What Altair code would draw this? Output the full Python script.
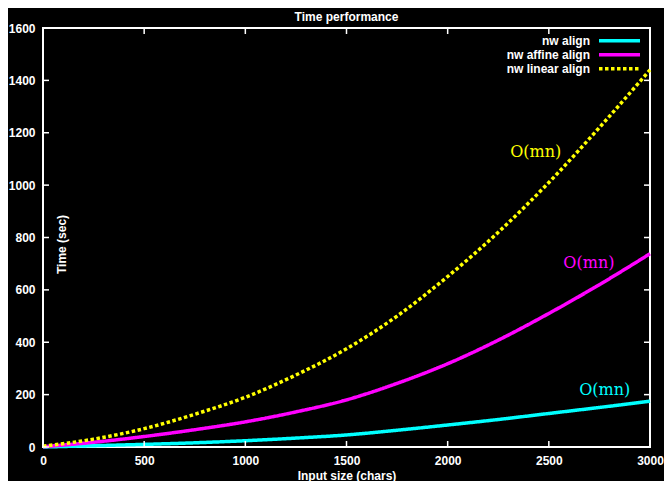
import altair as alt
import pandas as pd

# ---- data ----
sizes = [0, 250, 500, 750, 1000, 1250, 1500, 1750, 2000, 2250, 2500, 2750, 3000]
nw_align = [0, 5, 10, 16, 24, 34, 46, 64, 84, 105, 128, 151, 175]
nw_affine = [1, 18, 40, 66, 96, 134, 180, 243, 318, 408, 510, 620, 738]
nw_linear = [3, 30, 70, 125, 190, 275, 375, 500, 651, 820, 1010, 1220, 1440]

series_names = ["nw align", "nw affine align", "nw linear align"]
series_colors = ["#00ffff", "#ff00ff", "#ffff00"]
series_dash = [[1, 0], [1, 0], [3.5, 2.5]]

ann_labels = ["O(mn)", "O(mn)", "O(mn)"]
ann_x = [2776, 2698, 2435]
ann_y = [219, 704, 1127]

x_ticks = [0, 500, 1000, 1500, 2000, 2500, 3000]
y_ticks = [0, 200, 400, 600, 800, 1000, 1200, 1400, 1600]

W, H = 607, 419
FONT = "Liberation Sans"

rows = []
for name, vals in zip(series_names, [nw_align, nw_affine, nw_linear]):
    for n, v in zip(sizes, vals):
        rows.append({"size": n, "time": v, "series": name})
df = pd.DataFrame(rows)

ann_df = pd.DataFrame({"size": ann_x, "time": ann_y, "label": ann_labels, "series": series_names})
xt_df = pd.DataFrame({"size": x_ticks})
yt_df = pd.DataFrame({"time": y_ticks})

xscale = alt.Scale(domain=[0, 3000], nice=False)
yscale = alt.Scale(domain=[0, 1600], nice=False)
cscale = alt.Scale(domain=series_names, range=series_colors)
dscale = alt.Scale(domain=series_names, range=series_dash)

xaxis = alt.Axis(values=x_ticks, format="d", labelFlush=False, labelOverlap=False,
                 ticks=False, tickSize=0, domain=False, grid=False,
                 labelPadding=8, title="Input size (chars)", titleY=32,
                 titleBaseline="alphabetic")
yaxis = alt.Axis(values=y_ticks, format="d", labelFlush=False, labelOverlap=False,
                 ticks=False, tickSize=0, domain=False, grid=False,
                 labelPadding=8, title="Time (sec)", titleAngle=270,
                 titleX=18, titleY=216, titleAlign="center", titleBaseline="middle")

lines = alt.Chart(df).mark_line(strokeWidth=3.5, interpolate="monotone", strokeCap="butt").encode(
    x=alt.X("size:Q", scale=xscale, axis=xaxis),
    y=alt.Y("time:Q", scale=yscale, axis=yaxis),
    color=alt.Color("series:N", scale=cscale, legend=None),
    strokeDash=alt.StrokeDash("series:N", scale=dscale, legend=None),
    detail="series:N",
)

annotations = alt.Chart(ann_df).mark_text(font="DejaVu Serif", fontSize=16, align="center",
                                          baseline="middle").encode(
    x=alt.X("size:Q", scale=xscale, axis=xaxis),
    y=alt.Y("time:Q", scale=yscale, axis=yaxis),
    text="label:N",
    color=alt.Color("series:N", scale=cscale, legend=None),
)

tick_layers = [
    alt.Chart(yt_df).mark_rule(color="white", strokeWidth=1.5).encode(
        y=alt.Y("time:Q", scale=yscale, axis=yaxis), x=alt.value(0), x2=alt.value(6)),
    alt.Chart(yt_df).mark_rule(color="white", strokeWidth=1.5).encode(
        y=alt.Y("time:Q", scale=yscale, axis=yaxis), x=alt.value(W - 6), x2=alt.value(W)),
    alt.Chart(xt_df).mark_rule(color="white", strokeWidth=1.5).encode(
        x=alt.X("size:Q", scale=xscale, axis=xaxis), y=alt.value(H), y2=alt.value(H - 6)),
    alt.Chart(xt_df).mark_rule(color="white", strokeWidth=1.5).encode(
        x=alt.X("size:Q", scale=xscale, axis=xaxis), y=alt.value(0), y2=alt.value(6)),
]

legend_layers = []
for i, (name, col, dash) in enumerate(zip(series_names, series_colors, series_dash)):
    ly = 12.7 + 14 * i
    d = alt.Data(values=[{"s": name}])
    legend_layers.append(
        alt.Chart(d).mark_text(align="right", baseline="middle", font=FONT, fontSize=12,
                               fontWeight="bold", color="white").encode(
            x=alt.value(547), y=alt.value(ly), text="s:N"))
    legend_layers.append(
        alt.Chart(d).mark_rule(color=col, strokeWidth=3.5, strokeDash=dash, strokeCap="butt").encode(
            x=alt.value(556), x2=alt.value(597), y=alt.value(ly)))

title_layer = alt.Chart(alt.Data(values=[{"t": "Time performance"}])).mark_text(
    align="center", baseline="middle", font=FONT, fontSize=12, fontWeight="bold", color="white"
).encode(x=alt.value(W / 2), y=alt.value(-11), text="t:N")

chart = alt.layer(
    lines, annotations, *tick_layers, *legend_layers, title_layer
).properties(
    width=W, height=H,
    autosize=alt.AutoSizeParams(type="none"),
    padding={"left": 35, "top": 20, "right": 14, "bottom": 34},
    background="black",
).configure_view(
    stroke="white", strokeWidth=2
).configure_axis(
    labelColor="white", titleColor="white", labelFont=FONT, titleFont=FONT,
    labelFontSize=12, titleFontSize=12, labelFontWeight="bold", titleFontWeight="bold",
)

chart.save("out.html", embed_options={"renderer": "svg", "actions": False})
